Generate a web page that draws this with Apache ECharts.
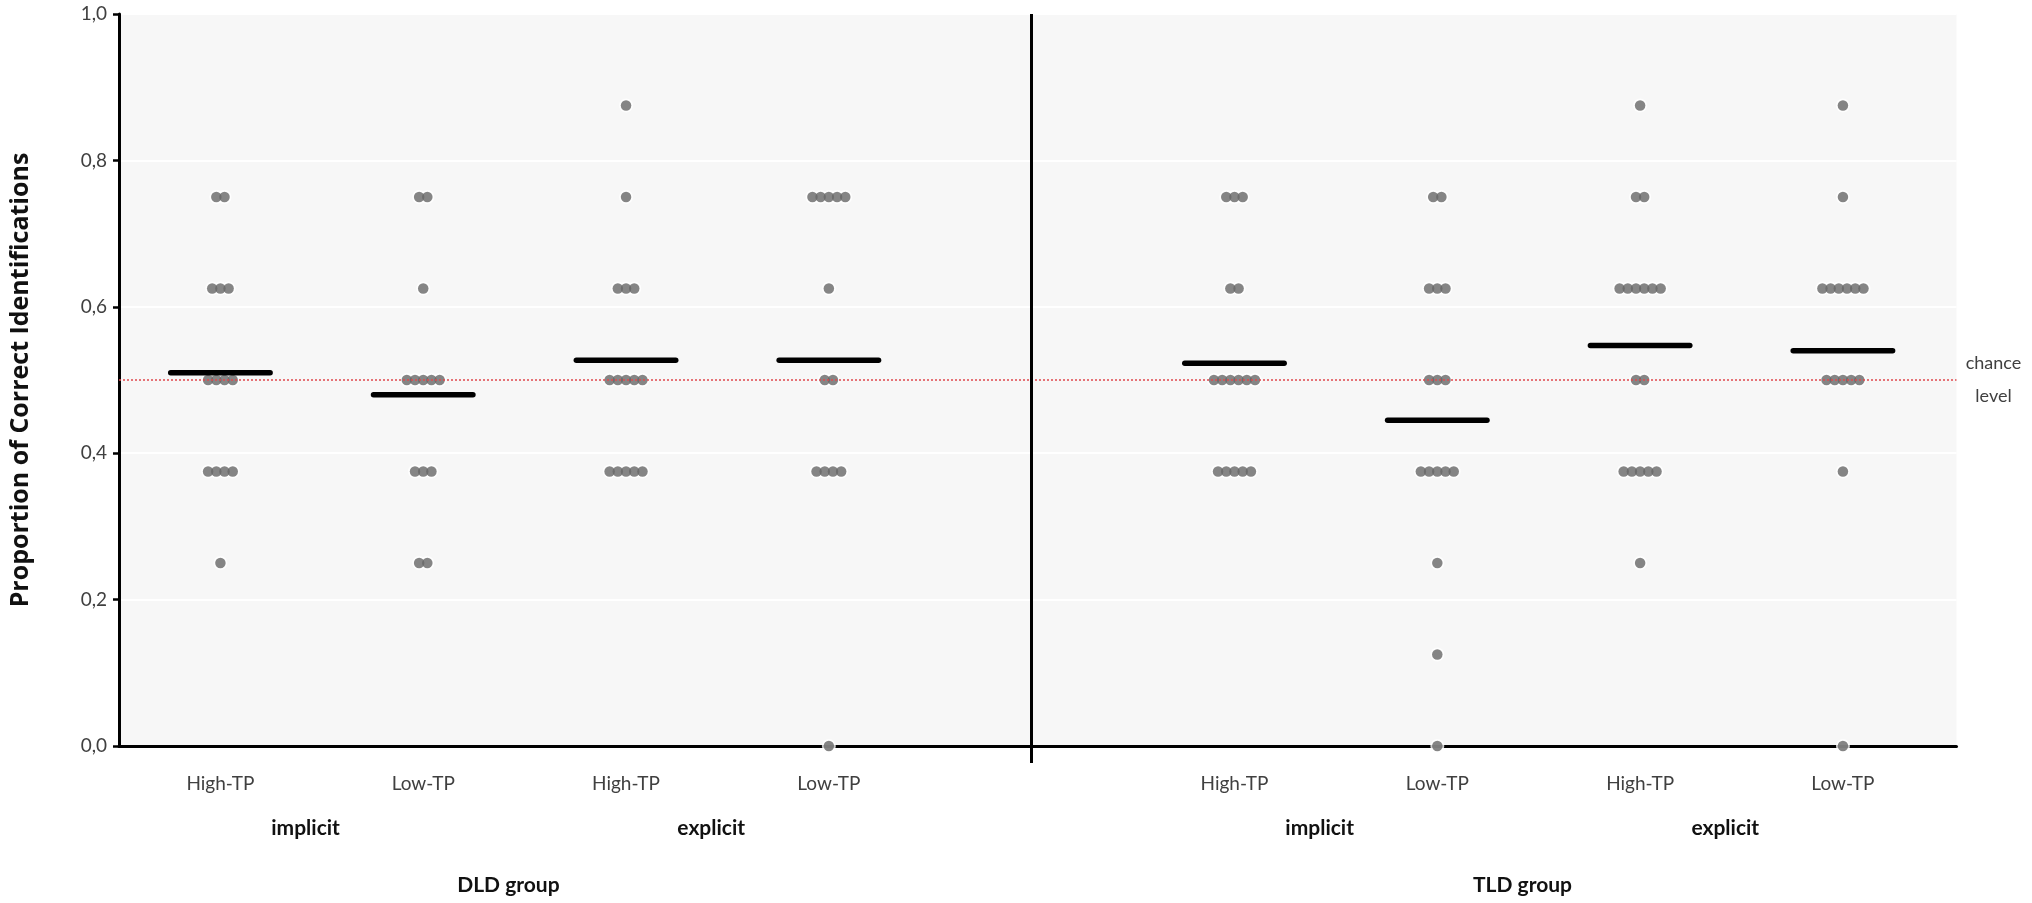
<!DOCTYPE html>
<html>
<head>
<meta charset="utf-8">
<script src="https://cdn.jsdelivr.net/npm/echarts@6/dist/echarts.min.js"></script>
<style>
html,body{margin:0;padding:0;background:#fff;}
#chart{width:2032px;height:903px;}
</style>
</head>
<body>
<div id="chart"></div>
<script>
// ---- data ----
const categories = ['High-TP','Low-TP','High-TP','Low-TP','High-TP','Low-TP','High-TP','Low-TP'];
const tasks = ['implicit','explicit','implicit','explicit'];
const groups = ['DLD group','TLD group'];
const yTicks = [0, 0.2, 0.4, 0.6, 0.8, 1.0];
const chanceLevel = 0.5;

// individual proportions (one value per participant dot)
const dldImplicitHigh = [0.75,0.75, 0.625,0.625,0.625, 0.5,0.5,0.5,0.5, 0.375,0.375,0.375,0.375, 0.25];
const dldImplicitLow  = [0.75,0.75, 0.625, 0.5,0.5,0.5,0.5,0.5, 0.375,0.375,0.375, 0.25,0.25];
const dldExplicitHigh = [0.875, 0.75, 0.625,0.625,0.625, 0.5,0.5,0.5,0.5,0.5, 0.375,0.375,0.375,0.375,0.375];
const dldExplicitLow  = [0.75,0.75,0.75,0.75,0.75, 0.625, 0.5,0.5, 0.375,0.375,0.375,0.375, 0];
const tldImplicitHigh = [0.75,0.75,0.75, 0.625,0.625, 0.5,0.5,0.5,0.5,0.5,0.5, 0.375,0.375,0.375,0.375,0.375];
const tldImplicitLow  = [0.75,0.75, 0.625,0.625,0.625, 0.5,0.5,0.5, 0.375,0.375,0.375,0.375,0.375, 0.25, 0.125, 0];
const tldExplicitHigh = [0.875, 0.75,0.75, 0.625,0.625,0.625,0.625,0.625,0.625, 0.5,0.5, 0.375,0.375,0.375,0.375,0.375, 0.25];
const tldExplicitLow  = [0.875, 0.75, 0.625,0.625,0.625,0.625,0.625,0.625, 0.5,0.5,0.5,0.5,0.5, 0.375, 0];

// group means (black bars)
const means = [0.51, 0.48, 0.527, 0.527, 0.523, 0.445, 0.547, 0.54];

// ---- layout helpers ----
const conditions = [dldImplicitHigh, dldImplicitLow, dldExplicitHigh, dldExplicitLow,
                    tldImplicitHigh, tldImplicitLow, tldExplicitHigh, tldExplicitLow];
const catPos = i => (i < 4 ? i + 0.5 : i + 1.5);   // 9 slots, slot 5 holds the divider
const dividerPos = 4.5;
const positions = categories.map((c, i) => catPos(i));
const taskPos = tasks.map((t, k) => (catPos(2*k) + catPos(2*k+1)) / 2 - 0.08);
const groupPos = groups.map((g, k) => (catPos(4*k) + catPos(4*k+3)) / 2 - 0.08);
const dotStep = 0.0405;
const barHalf = 0.245;

const dots = [];
conditions.forEach((vals, ci) => {
  const rows = {};
  vals.forEach(v => { rows[v] = (rows[v] || 0) + 1; });
  Object.keys(rows).forEach(k => {
    const n = rows[k];
    for (let j = 0; j < n; j++) {
      dots.push([positions[ci] + (j - (n - 1) / 2) * dotStep, Number(k)]);
    }
  });
});
const meanData = means.map((m, i) => [positions[i], m]);

const near = (a, b) => Math.abs(a - b) < 1e-6;
const FONT = 'Lato';

const chart = echarts.init(document.getElementById('chart'), null, {renderer: 'canvas'});
chart.setOption({
  backgroundColor: '#ffffff',
  animation: false,
  grid: {left: 110, right: 75.5, top: 14, bottom: 157, show: true,
         backgroundColor: '#f7f7f7', borderWidth: 0, containLabel: false},
  xAxis: [
    {type: 'value', min: 0, max: 9.06, position: 'bottom',
     axisLine: {show: true, onZero: false, lineStyle: {color: '#000', width: 3}},
     axisTick: {show: true, customValues: [dividerPos], length: 17, inside: false,
                lineStyle: {color: '#000', width: 3}},
     splitLine: {show: false},
     axisLabel: {customValues: positions, margin: 28, fontFamily: FONT, fontSize: 19, color: '#404040',
                 formatter: v => { const i = positions.findIndex(p => near(p, v)); return i >= 0 ? categories[i] : ''; }}},
    {type: 'value', min: 0, max: 9.06, position: 'bottom',
     axisLine: {show: false}, axisTick: {show: false}, splitLine: {show: false},
     axisLabel: {customValues: taskPos, margin: 72, fontFamily: FONT, fontSize: 21, fontWeight: 'bold', color: '#111',
                 formatter: v => { const i = taskPos.findIndex(p => near(p, v)); return i >= 0 ? tasks[i] : ''; }}},
    {type: 'value', min: 0, max: 9.06, position: 'bottom',
     axisLine: {show: false}, axisTick: {show: false}, splitLine: {show: false},
     axisLabel: {customValues: groupPos, margin: 129, fontFamily: FONT, fontSize: 21, fontWeight: 'bold', color: '#111',
                 formatter: v => { const i = groupPos.findIndex(p => near(p, v)); return i >= 0 ? groups[i] : ''; }}}
  ],
  yAxis: {
    type: 'value', min: 0, max: 1, interval: 0.2,
    name: 'Proportion of Correct Identifications', nameLocation: 'middle', nameGap: 86,
    nameTextStyle: {fontFamily: 'Open Sans', fontSize: 25, fontWeight: 'bold', color: '#111'},
    axisLine: {show: true, lineStyle: {color: '#000', width: 3}},
    axisTick: {show: true, length: 6, lineStyle: {color: '#000', width: 2.5}},
    splitLine: {show: true, lineStyle: {color: '#ffffff', width: 2}},
    axisLabel: {fontFamily: FONT, fontSize: 19, color: '#404040', margin: 12,
                formatter: v => (yTicks.some(t => near(t, v)) ? v.toFixed(1).replace('.', ',') : '')}
  },
  series: [
    {type: 'scatter', name: 'halo', xAxisIndex: 0, data: dots, symbol: 'circle', symbolSize: 14,
     itemStyle: {color: '#ffffff'}, silent: true, clip: false, z: 2},
    {type: 'scatter', name: 'participants', xAxisIndex: 0, data: dots, symbol: 'circle', symbolSize: 10.5,
     itemStyle: {color: '#666666'}, silent: true, clip: false, z: 3,
     markLine: {
       silent: true, symbol: 'none', animation: false,
       data: [
         {yAxis: chanceLevel,
          lineStyle: {color: '#e0484e', type: [2, 2], width: 1.5},
          label: {show: true, position: 'end', distance: 8,
                  formatter: '{a|chance}\n{a|level}',
                  rich: {a: {fontFamily: FONT, fontSize: 18, color: '#404040', lineHeight: 33,
                             width: 58, align: 'center'}}}},
         {xAxis: dividerPos,
          lineStyle: {color: '#000', type: 'solid', width: 3},
          label: {show: false}}
       ]
     }},
    {type: 'custom', name: 'mean', xAxisIndex: 0, data: meanData, z: 4, clip: false,
     renderItem: (params, api) => {
       const x = api.value(0), m = api.value(1);
       const p1 = api.coord([x - barHalf, m]);
       const p2 = api.coord([x + barHalf, m]);
       return {type: 'line', shape: {x1: p1[0], y1: p1[1], x2: p2[0], y2: p2[1]},
               style: {stroke: '#000', lineWidth: 5.5, lineCap: 'round'}};
     }}
  ]
});
</script>
</body>
</html>
